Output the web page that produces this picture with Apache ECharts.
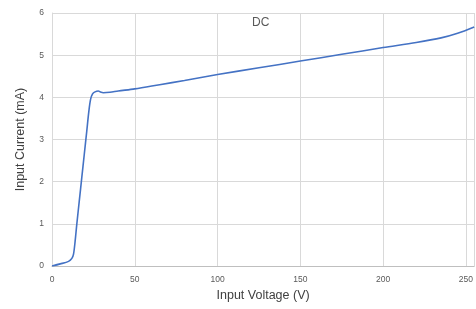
<!DOCTYPE html>
<html>
<head>
<meta charset="utf-8">
<script src="https://cdn.jsdelivr.net/npm/echarts@6/dist/echarts.min.js"></script>
<style>
  html, body { margin: 0; padding: 0; background: #fff; }
  #chart { width: 476px; height: 309px; }
</style>
</head>
<body>
<div id="chart"></div>
<script>
// 电压 (V)
var voltage = [0, 5, 10, 12, 13, 14, 15, 16.5, 18, 19.5, 21, 22.2, 23.3, 24.5, 26, 28, 29, 31, 35, 40, 50, 65, 80, 100, 125, 150, 175, 200, 220, 235, 245, 255];
// 电流 (mA)
var current = [0, 0.05, 0.11, 0.18, 0.28, 0.6, 1.0, 1.55, 2.1, 2.65, 3.2, 3.65, 3.95, 4.08, 4.13, 4.15, 4.13, 4.11, 4.12, 4.15, 4.2, 4.3, 4.4, 4.54, 4.7, 4.86, 5.02, 5.18, 5.3, 5.41, 5.52, 5.67];
var xTicks = [0, 50, 100, 150, 200, 250];
var yTicks = [0, 1, 2, 3, 4, 5, 6];

var font = 'Liberation Sans, Arial, sans-serif';
var labelColor = '#595959';
var gridColor = '#d9d9d9';

var chart = echarts.init(document.getElementById('chart'));

var points = []
voltage.forEach(function (v, i) {
  points.push([v, current[i]])
})

chart.setOption({
  animation: false,
  title: {
    text: 'DC',
    left: 247,
    top: 12,
    textStyle: { fontFamily: font, fontSize: 12, fontWeight: 'normal', color: labelColor }
  },
  grid: { left: 52, right: 0, top: 13, bottom: 43 },
  xAxis: {
    type: 'value',
    min: 0,
    max: 255,
    interval: 50,
    name: 'Input Voltage (V)',
    nameLocation: 'middle',
    nameGap: 20,
    nameTextStyle: { fontFamily: font, fontSize: 12.5, color: '#404040' },
    axisLine: { show: true, lineStyle: { color: '#bfbfbf' } },
    axisTick: { show: false },
    axisLabel: {
      fontFamily: font, fontSize: 8.5, color: labelColor, margin: 9,
      showMaxLabel: false,
      formatter: function (v) { return xTicks.indexOf(v) >= 0 ? v : ''; }
    },
    splitLine: { show: true, lineStyle: { color: gridColor } }
  },
  yAxis: {
    type: 'value',
    min: 0,
    max: 6,
    interval: 1,
    name: 'Input Current (mA)',
    nameLocation: 'middle',
    nameGap: 25,
    nameTextStyle: { fontFamily: font, fontSize: 12.5, color: '#404040' },
    axisLine: { show: true, lineStyle: { color: gridColor } },
    axisTick: { show: false },
    axisLabel: {
      fontFamily: font, fontSize: 8.5, color: labelColor, margin: 8,
      formatter: function (v) { return yTicks.indexOf(v) >= 0 ? v : ''; }
    },
    splitLine: { show: true, lineStyle: { color: gridColor } }
  },
  series: [{
    type: 'line',
    data: points,
    smooth: 0.3,
    showSymbol: false,
    lineStyle: { color: '#4472c4', width: 1.6 }
  }]
});
</script>
</body>
</html>
